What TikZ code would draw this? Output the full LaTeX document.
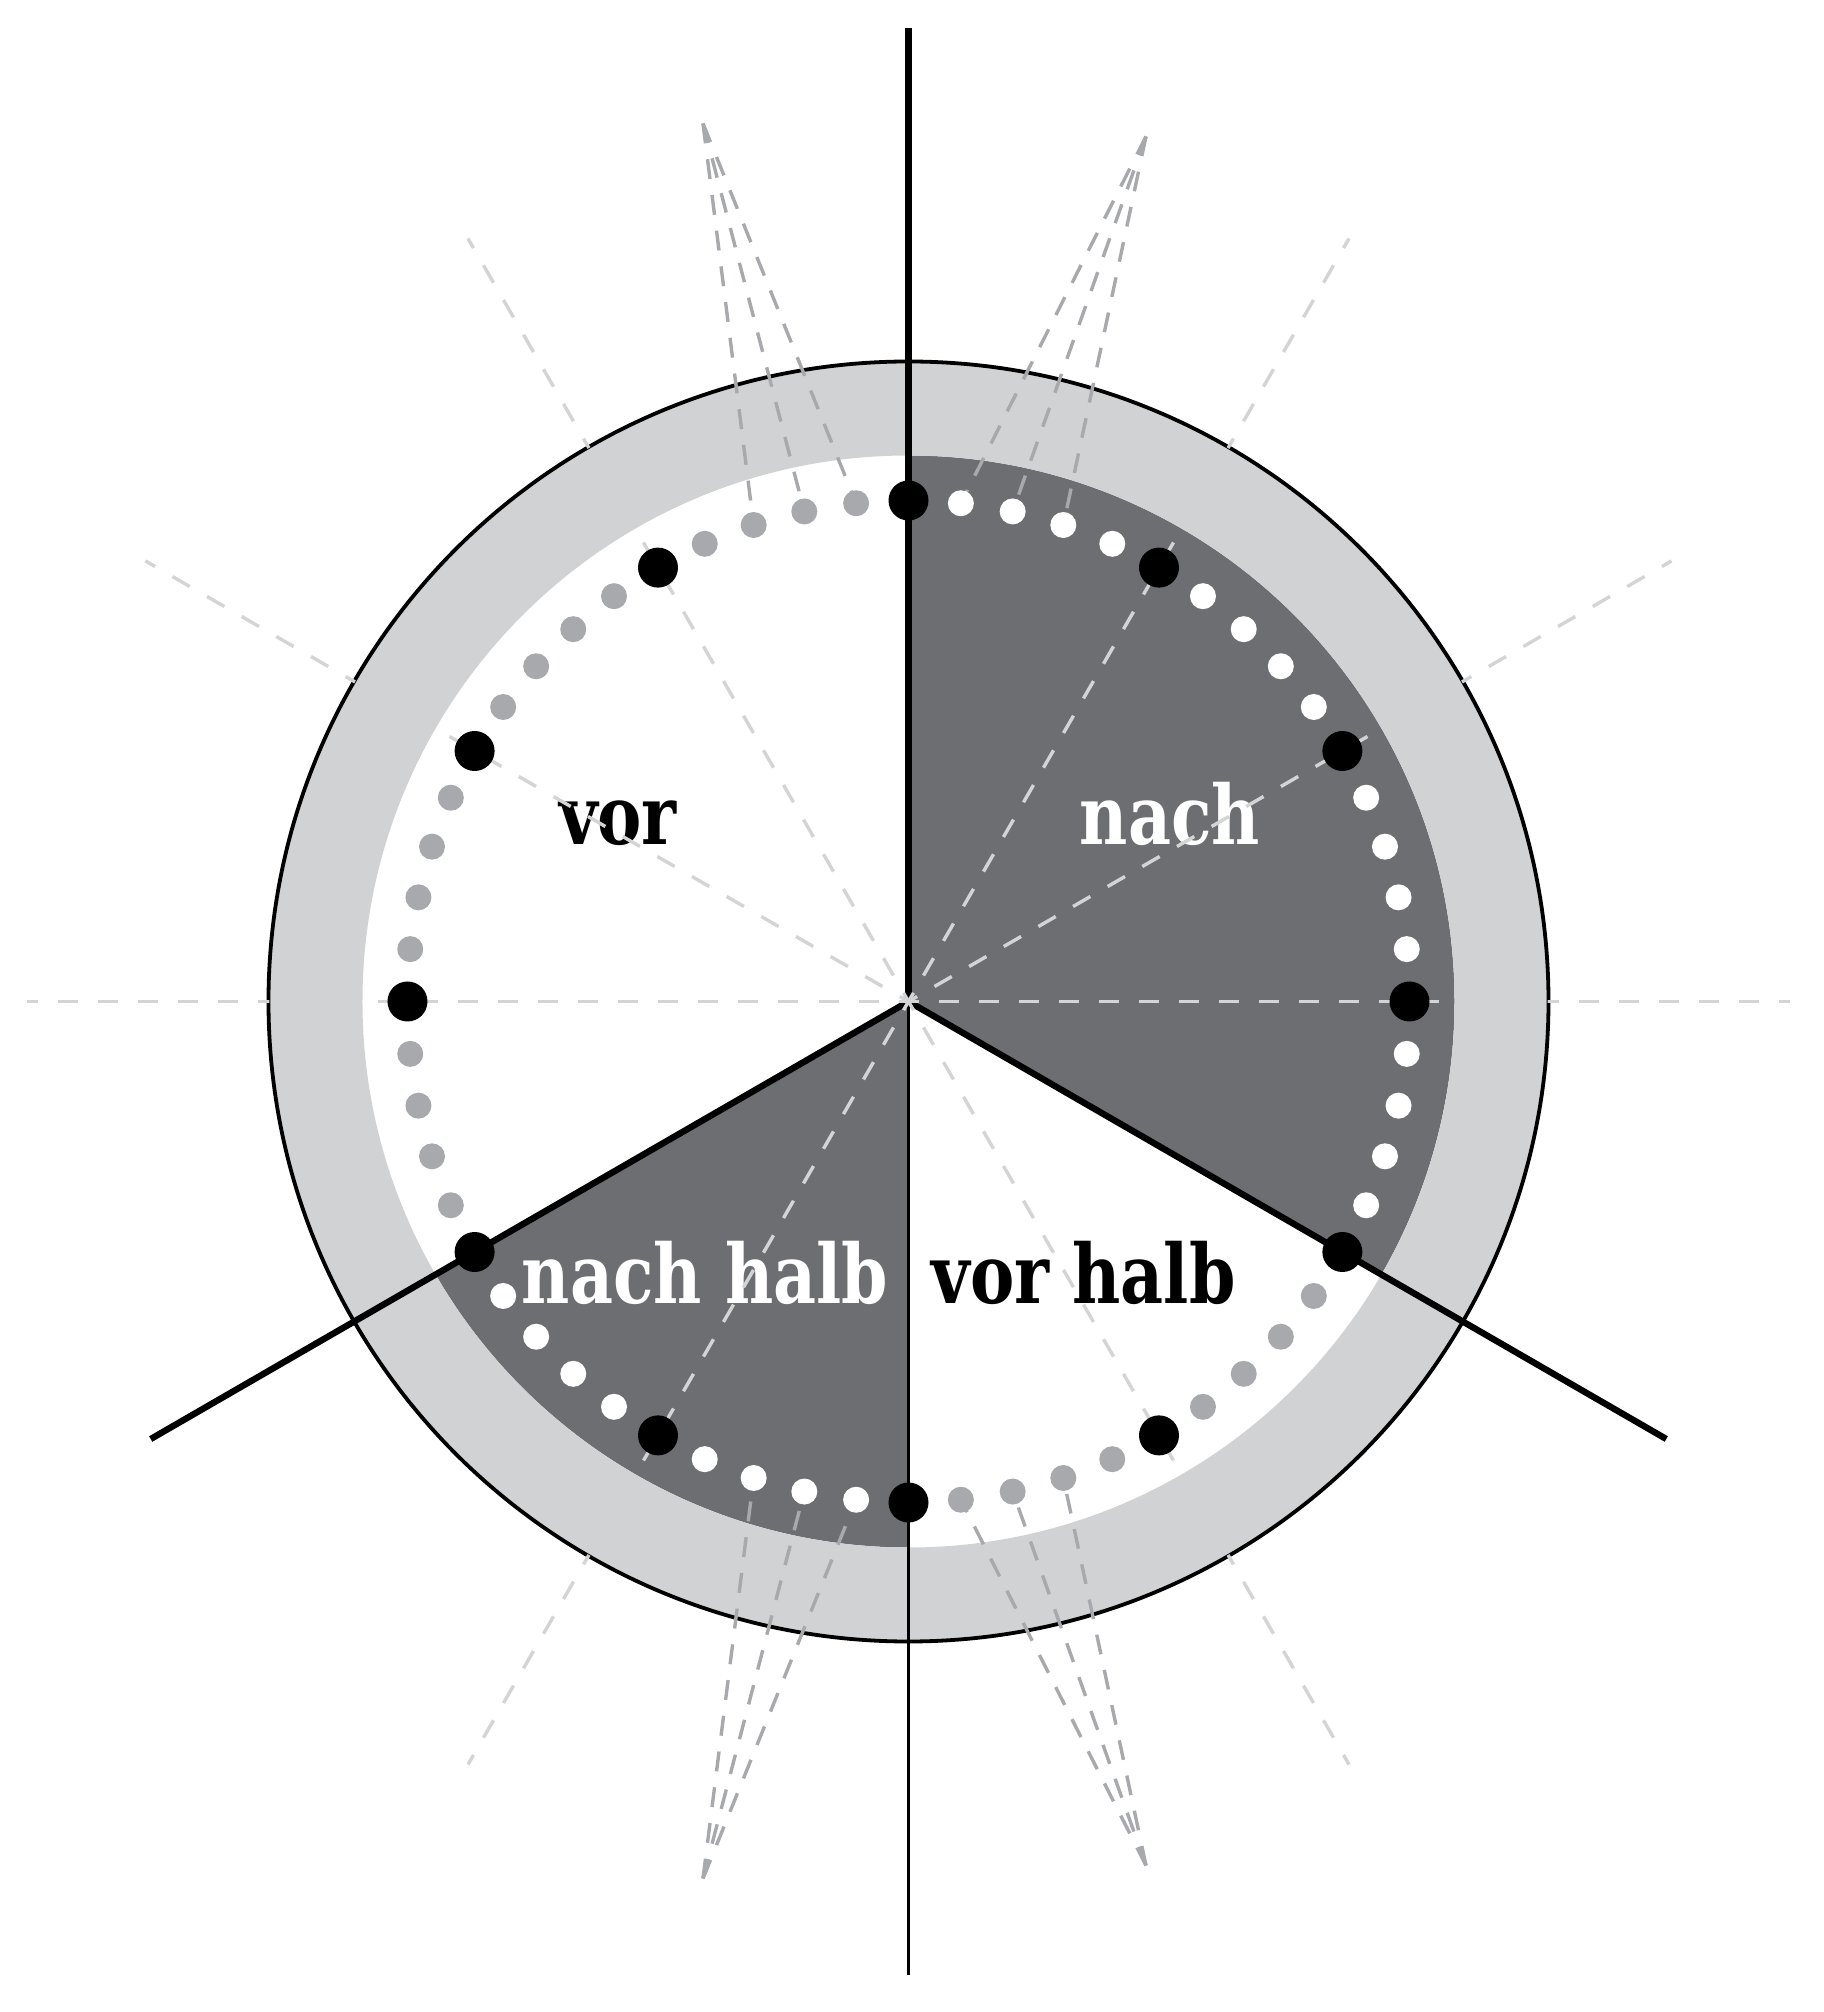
\documentclass[tikz,border=0pt]{standalone}
\usepackage{fontspec}
\newfontfamily\labfont{DejaVu Serif}[FakeStretch=0.81]
\definecolor{ringgray}{RGB}{209,210,212}
\definecolor{sectordark}{RGB}{109,110,113}
\definecolor{dotgray}{RGB}{167,169,172}
\definecolor{dashlight}{RGB}{211,212,213}
\definecolor{fangray}{RGB}{167,169,172}
\tikzset{
  thickline/.style={line width=3.2pt, black},
  thinline/.style={line width=1.7pt, black},
  lightdash/.style={line width=1.7pt, dashlight, dash pattern=on 10pt off 10pt, dash phase=5pt},
  fandash/.style={line width=1.7pt, fangray, dash pattern=on 10pt off 8pt},
  hourdot/.style={circle, fill=black, draw=none, inner sep=0pt, minimum size=20pt},
  mindot/.style={circle, draw=none, inner sep=0pt, minimum size=13pt},
  lab/.style={font=\labfont\bfseries\fontsize{41}{48}\selectfont, inner sep=0pt, anchor=base},
}
\begin{document}
\begin{tikzpicture}[x=0.5pt,y=0.5pt]
\useasboundingbox (-908.5,-1010.5) rectangle (915.5,1001.5);
\coordinate (O) at (0,0);
% dark sectors
\fill[sectordark] (O) -- (90:546) arc[start angle=90, end angle=-30, radius=546] -- cycle;
\fill[sectordark] (O) -- (210:546) arc[start angle=210, end angle=270, radius=546] -- cycle;
% labels
\node[lab, text=black] (vor) at (-290.5,156.5) {vor};
\node[lab, text=white] (nach) at (261.5,156.5) {nach};
\node[lab, text=white] (nachhalb) at (-203.5,-301.5) {nach halb};
\node[lab, text=black] (vorhalb) at (175,-301.5) {vor halb};
% ring
\fill[ringgray, even odd rule] (O) circle (640) (O) circle (546);
\draw[line width=1.9pt] (O) circle (640);
% solid lines
\coordinate (top) at (90:973);
\coordinate (bot) at (270:973);
\coordinate (dr) at (-30:875);
\coordinate (dl) at (210:875);
\draw[thinline] (O) -- (bot);
\draw[thickline] (O) -- (top);
\draw[thickline] (O) -- (dr);
\draw[thickline] (O) -- (dl);
% light dashed radial lines
\begin{scope}[even odd rule]
\clip (-1000,-1100) rectangle (1000,1100) (O) circle (639) (O) circle (546);
\foreach \a in {0,30,60,120,150,180,240,300}{
  \coordinate (r\a) at (\a:881);
  \draw[lightdash] (O) -- (r\a);
}
\end{scope}
% dot positions
\foreach \i in {0,...,59}{
  \coordinate (m\i) at ({90-6*\i}:501);
}
% fans
\coordinate (TL) at (-205.5,878);
\coordinate (TR) at (237.5,865);
\coordinate (BL) at (-205.5,-877);
\coordinate (BR) at (237.5,-864);
\foreach \i in {57,58,59}{\draw[fandash] (TL) -- (m\i);}
\foreach \i in {1,2,3}{\draw[fandash] (TR) -- (m\i);}
\foreach \i in {31,32,33}{\draw[fandash] (BL) -- (m\i);}
\foreach \i in {27,28,29}{\draw[fandash] (BR) -- (m\i);}
% dots
\foreach \i in {0,...,59}{
  \pgfmathtruncatemacro\hr{mod(\i,5)}
  \ifnum\i<20 \def\dc{white}\else
    \ifnum\i>30 \ifnum\i<40 \def\dc{white}\else\def\dc{dotgray}\fi
    \else\def\dc{dotgray}\fi
  \fi
  \ifnum\hr=0
    \node[hourdot] (d\i) at (m\i) {};
  \else
    \node[mindot, fill=\dc] (d\i) at (m\i) {};
  \fi
}
\end{tikzpicture}
\end{document}
